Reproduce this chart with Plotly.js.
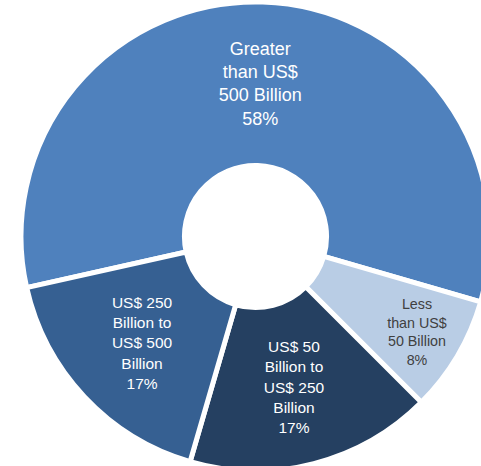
<!DOCTYPE html>
<html>
<head>
<meta charset="utf-8">
<script src="https://cdn.plot.ly/plotly-3.0.1.min.js"></script>
<style>
  html, body { margin: 0; padding: 0; width: 481px; height: 466px; overflow: hidden; background: #fff; }
  #chart { position: absolute; left: 21px; top: 2px; width: 469px; height: 469px; }
</style>
</head>
<body>
<div id="chart"></div>
<script>
const labels = [
  "Greater<br>than US$<br>500 Billion",
  "Less<br>than US$<br>50 Billion",
  "US$ 50<br>Billion to<br>US$ 250<br>Billion",
  "US$ 250<br>Billion to<br>US$ 500<br>Billion"
];
const values = [58, 8, 17, 17];
const colors = ["#4F81BD", "#B9CDE5", "#254061", "#366092"];
const textColors = ["#FFFFFF", "#404040", "#FFFFFF", "#FFFFFF"];
const textSizes = [18, 15.5, 15.5, 15.5];

const trace = {
  type: "pie",
  labels: labels,
  values: values,
  sort: false,
  direction: "clockwise",
  rotation: 257.4,
  hole: 0.303,
  marker: { colors: colors, line: { color: "#FFFFFF", width: 5 } },
  texttemplate: "%{label}<br>%{percent:.0%}",
  textposition: "inside",
  insidetextorientation: "horizontal",
  textfont: { family: "Liberation Sans, Arial, sans-serif", size: textSizes, color: textColors },
  hoverinfo: "none"
};

const layout = {
  width: 469,
  height: 469,
  margin: { l: 0, r: 0, t: 0, b: 0, pad: 0 },
  showlegend: false,
  paper_bgcolor: "rgba(0,0,0,0)",
  plot_bgcolor: "rgba(0,0,0,0)"
};

Plotly.newPlot("chart", [trace], layout, { staticPlot: true, displayModeBar: false });
</script>
</body>
</html>
